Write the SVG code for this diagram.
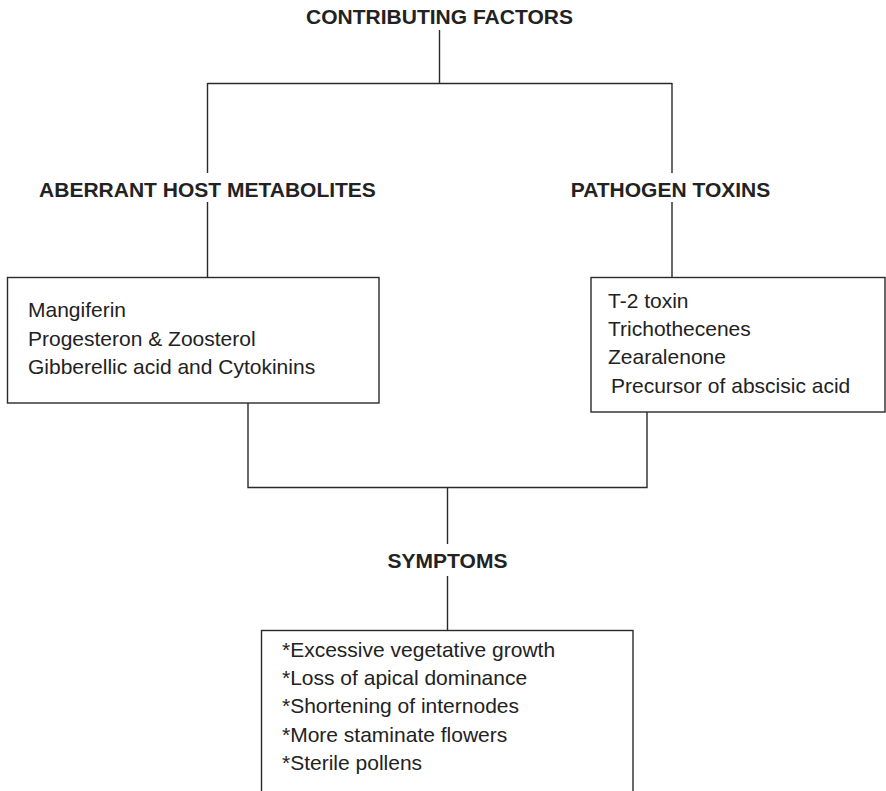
<svg xmlns="http://www.w3.org/2000/svg" width="886" height="791" viewBox="0 0 886 791">
<style>
.bg{fill:#ffffff}
.box{fill:#ffffff;stroke:#2a2a2a;stroke-width:1.4}
.ln{fill:none;stroke:#2a2a2a;stroke-width:1.4}
.h{font-family:"Liberation Sans",Arial,sans-serif;font-size:21px;font-weight:bold;fill:#222;text-anchor:middle}
.t{font-family:"Liberation Sans",Arial,sans-serif;font-size:21px;fill:#222}
</style>
<rect class="bg" x="0" y="0" width="886" height="791"/>
<g id="connectors">
<path class="ln" d="M439.5,30 V83.5 M207.5,83.5 H672 M207.5,83 V173 M672,83 V173"/>
<path class="ln" d="M207.5,202 V277.5 M672,202 V277.5"/>
<path class="ln" d="M248,403 V487.5 H647 V412 M447.5,487.5 V544 M447.5,576 V630.5"/>
</g>
<g id="contributing">
<text class="h" x="439.5" y="24">CONTRIBUTING FACTORS</text>
</g>
<g id="aberrant">
<text class="h" x="207.5" y="197">ABERRANT HOST METABOLITES</text>
</g>
<g id="pathogen">
<text class="h" x="670.5" y="197">PATHOGEN TOXINS</text>
</g>
<g id="host-box">
<rect class="box" x="7.5" y="277.5" width="371.5" height="125.5"/>
<text class="t" x="28" y="317">Mangiferin</text>
<text class="t" x="28" y="346">Progesteron &amp; Zoosterol</text>
<text class="t" x="28" y="374">Gibberellic acid and Cytokinins</text>
</g>
<g id="toxin-box">
<rect class="box" x="591" y="277.5" width="294" height="134.5"/>
<text class="t" x="608" y="308">T-2 toxin</text>
<text class="t" x="608" y="336">Trichothecenes</text>
<text class="t" x="608" y="364">Zearalenone</text>
<text class="t" x="611" y="392.5">Precursor of abscisic acid</text>
</g>
<g id="symptoms">
<text class="h" x="447.5" y="568">SYMPTOMS</text>
</g>
<g id="symptom-box">
<rect class="box" x="261.5" y="630.5" width="371.5" height="180"/>
<text class="t" x="282" y="656.5">*Excessive vegetative growth</text>
<text class="t" x="282" y="685">*Loss of apical dominance</text>
<text class="t" x="282" y="713">*Shortening of internodes</text>
<text class="t" x="282" y="741.5">*More staminate flowers</text>
<text class="t" x="282" y="770">*Sterile pollens</text>
</g>
</svg>
